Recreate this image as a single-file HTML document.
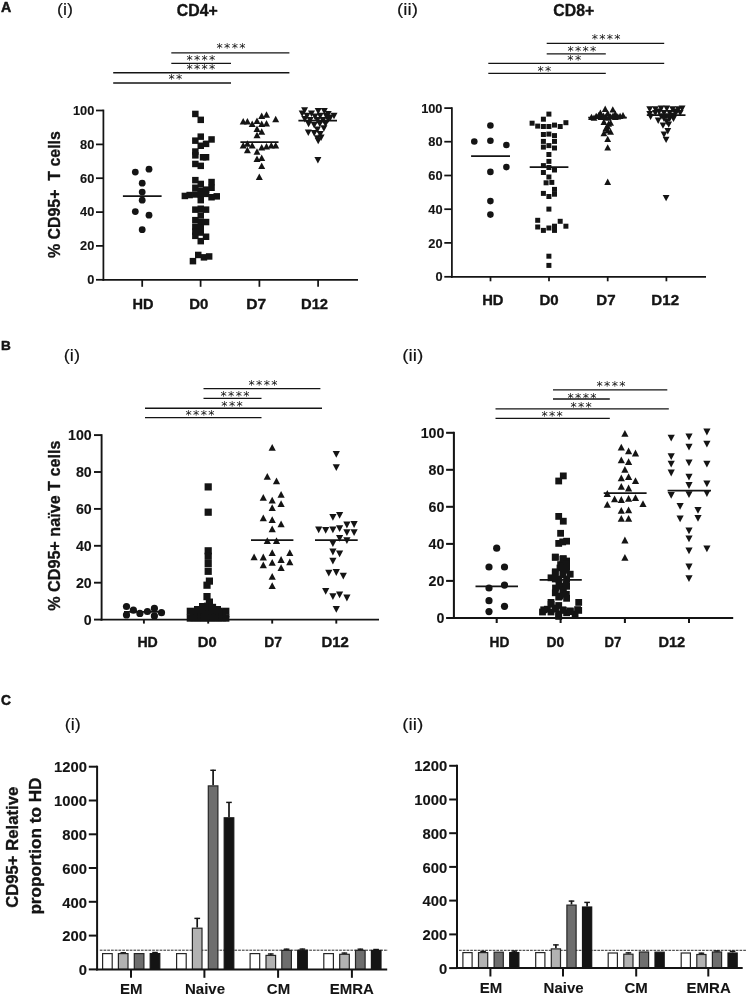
<!DOCTYPE html>
<html lang="en"><head><meta charset="utf-8"><title>Figure</title>
<style>
html,body{margin:0;padding:0;background:#fff;}
body{width:748px;height:996px;overflow:hidden;font-family:"Liberation Sans",sans-serif;}
svg{display:block;}
text{fill:#141414;white-space:pre;}
</style></head><body>
<svg width="748" height="996" viewBox="0 0 748 996">
<rect width="748" height="996" fill="#fff"/>
<g fill="#141414">
<circle cx="135.3" cy="172.1" r="3.4"/>
<circle cx="149.0" cy="169.2" r="3.4"/>
<circle cx="142.2" cy="183.2" r="3.4"/>
<circle cx="142.2" cy="192.1" r="3.4"/>
<circle cx="142.2" cy="200.2" r="3.4"/>
<circle cx="135.3" cy="211.6" r="3.4"/>
<circle cx="149.0" cy="215.2" r="3.4"/>
<circle cx="142.2" cy="229.7" r="3.4"/>
<path d="M122.9 196.0H161.6" stroke="#141414" stroke-width="1.75" fill="none"/>
<rect x="192.1" y="110.7" width="6.5" height="6.5"/>
<rect x="197.5" y="116.6" width="6.5" height="6.5"/>
<rect x="197.5" y="133.4" width="6.5" height="6.5"/>
<rect x="208.3" y="136.2" width="6.5" height="6.5"/>
<rect x="192.1" y="137.4" width="6.5" height="6.5"/>
<rect x="202.8" y="140.6" width="6.5" height="6.5"/>
<rect x="197.5" y="142.5" width="6.5" height="6.5"/>
<rect x="192.1" y="148.3" width="6.5" height="6.5"/>
<rect x="192.1" y="152.1" width="6.5" height="6.5"/>
<rect x="202.8" y="154.0" width="6.5" height="6.5"/>
<rect x="199.8" y="154.0" width="6.5" height="6.5"/>
<rect x="192.1" y="160.7" width="6.5" height="6.5"/>
<rect x="197.5" y="162.6" width="6.5" height="6.5"/>
<rect x="192.1" y="176.9" width="6.5" height="6.5"/>
<rect x="208.3" y="178.8" width="6.5" height="6.5"/>
<rect x="197.5" y="180.7" width="6.5" height="6.5"/>
<rect x="192.1" y="184.5" width="6.5" height="6.5"/>
<rect x="208.3" y="184.5" width="6.5" height="6.5"/>
<rect x="202.8" y="186.4" width="6.5" height="6.5"/>
<rect x="197.5" y="187.4" width="6.5" height="6.5"/>
<rect x="181.6" y="192.7" width="6.5" height="6.5"/>
<rect x="186.4" y="191.8" width="6.5" height="6.5"/>
<rect x="192.1" y="191.2" width="6.5" height="6.5"/>
<rect x="197.5" y="191.2" width="6.5" height="6.5"/>
<rect x="202.8" y="190.6" width="6.5" height="6.5"/>
<rect x="208.3" y="194.0" width="6.5" height="6.5"/>
<rect x="213.5" y="193.1" width="6.5" height="6.5"/>
<rect x="197.5" y="196.9" width="6.5" height="6.5"/>
<rect x="192.1" y="206.4" width="6.5" height="6.5"/>
<rect x="197.5" y="205.5" width="6.5" height="6.5"/>
<rect x="202.8" y="206.4" width="6.5" height="6.5"/>
<rect x="197.5" y="212.2" width="6.5" height="6.5"/>
<rect x="192.1" y="216.9" width="6.5" height="6.5"/>
<rect x="197.5" y="218.8" width="6.5" height="6.5"/>
<rect x="202.8" y="218.8" width="6.5" height="6.5"/>
<rect x="192.1" y="223.6" width="6.5" height="6.5"/>
<rect x="197.5" y="224.9" width="6.5" height="6.5"/>
<rect x="192.1" y="228.4" width="6.5" height="6.5"/>
<rect x="197.5" y="229.3" width="6.5" height="6.5"/>
<rect x="192.1" y="232.6" width="6.5" height="6.5"/>
<rect x="202.8" y="233.5" width="6.5" height="6.5"/>
<rect x="197.5" y="237.9" width="6.5" height="6.5"/>
<rect x="195.0" y="251.7" width="6.5" height="6.5"/>
<rect x="200.7" y="254.1" width="6.5" height="6.5"/>
<rect x="205.9" y="253.2" width="6.5" height="6.5"/>
<rect x="189.7" y="257.9" width="6.5" height="6.5"/>
<path d="M239.7 124.6L246.7 124.6L243.2 118.1Z"/>
<path d="M243.9 124.6L250.9 124.6L247.4 118.1Z"/>
<path d="M248.7 127.1L255.7 127.1L252.2 120.6Z"/>
<path d="M253.5 123.9L260.5 123.9L257.0 117.4Z"/>
<path d="M258.2 119.1L265.2 119.1L261.7 112.6Z"/>
<path d="M263.0 117.7L270.0 117.7L266.5 111.2Z"/>
<path d="M272.2 122.3L279.2 122.3L275.7 115.8Z"/>
<path d="M258.2 127.1L265.2 127.1L261.7 120.6Z"/>
<path d="M263.0 126.5L270.0 126.5L266.5 120.0Z"/>
<path d="M253.5 131.9L260.5 131.9L257.0 125.4Z"/>
<path d="M258.2 134.7L265.2 134.7L261.7 128.2Z"/>
<path d="M253.5 138.2L260.5 138.2L257.0 131.7Z"/>
<path d="M239.7 148.5L246.7 148.5L243.2 142.0Z"/>
<path d="M243.9 146.7L250.9 146.7L247.4 140.2Z"/>
<path d="M248.7 148.5L255.7 148.5L252.2 142.0Z"/>
<path d="M243.9 153.2L250.9 153.2L247.4 146.7Z"/>
<path d="M253.5 154.8L260.5 154.8L257.0 148.3Z"/>
<path d="M258.2 150.6L265.2 150.6L261.7 144.1Z"/>
<path d="M263.0 149.6L270.0 149.6L266.5 143.1Z"/>
<path d="M267.8 148.5L274.8 148.5L271.3 142.0Z"/>
<path d="M272.2 148.5L279.2 148.5L275.7 142.0Z"/>
<path d="M253.5 162.0L260.5 162.0L257.0 155.5Z"/>
<path d="M258.2 161.1L265.2 161.1L261.7 154.6Z"/>
<path d="M258.2 169.1L265.2 169.1L261.7 162.6Z"/>
<path d="M255.8 179.9L262.8 179.9L259.3 173.4Z"/>
<path d="M240.4 142.1H278.5" stroke="#141414" stroke-width="1.75" fill="none"/>
<path d="M301.1 107.2L308.1 107.2L304.6 113.7Z"/>
<path d="M314.7 108.0L321.7 108.0L318.2 114.5Z"/>
<path d="M320.8 108.0L327.8 108.0L324.3 114.5Z"/>
<path d="M298.7 110.4L305.7 110.4L302.2 116.9Z"/>
<path d="M308.0 110.4L315.0 110.4L311.5 116.9Z"/>
<path d="M324.7 110.9L331.7 110.9L328.2 117.4Z"/>
<path d="M330.5 112.8L337.5 112.8L334.0 119.3Z"/>
<path d="M303.5 112.8L310.5 112.8L307.0 119.3Z"/>
<path d="M311.5 113.6L318.5 113.6L315.0 120.1Z"/>
<path d="M316.7 112.8L323.7 112.8L320.2 119.3Z"/>
<path d="M322.8 113.1L329.8 113.1L326.3 119.6Z"/>
<path d="M326.9 114.4L333.9 114.4L330.4 120.9Z"/>
<path d="M301.3 116.0L308.3 116.0L304.8 122.5Z"/>
<path d="M306.7 117.0L313.7 117.0L310.2 123.5Z"/>
<path d="M313.9 117.0L320.9 117.0L317.4 123.5Z"/>
<path d="M319.6 117.0L326.6 117.0L323.1 123.5Z"/>
<path d="M324.7 116.3L331.7 116.3L328.2 122.8Z"/>
<path d="M305.1 120.8L312.1 120.8L308.6 127.3Z"/>
<path d="M310.7 122.1L317.7 122.1L314.2 128.6Z"/>
<path d="M316.3 120.8L323.3 120.8L319.8 127.3Z"/>
<path d="M322.0 120.8L329.0 120.8L325.5 127.3Z"/>
<path d="M313.9 126.4L320.9 126.4L317.4 132.9Z"/>
<path d="M320.4 125.3L327.4 125.3L323.9 131.8Z"/>
<path d="M304.8 129.6L311.8 129.6L308.3 136.1Z"/>
<path d="M310.7 130.1L317.7 130.1L314.2 136.6Z"/>
<path d="M316.7 131.1L323.7 131.1L320.2 137.6Z"/>
<path d="M313.9 135.3L320.9 135.3L317.4 141.8Z"/>
<path d="M317.6 134.5L324.6 134.5L321.1 141.0Z"/>
<path d="M314.7 137.8L321.7 137.8L318.2 144.3Z"/>
<path d="M314.4 156.9L321.4 156.9L317.9 163.4Z"/>
<path d="M298.4 120.5H337.0" stroke="#141414" stroke-width="1.75" fill="none"/>
<path d="M103.4 109.6V280.7" stroke="#141414" stroke-width="1.75" fill="none"/>
<path d="M102.5 279.8H358.0" stroke="#141414" stroke-width="1.75" fill="none"/>
<path d="M96.0 110.5H103.4" stroke="#141414" stroke-width="1.75" fill="none"/>
<text x="94.3" y="114.8" font-family="'Liberation Sans', sans-serif" font-size="12.8" font-weight="bold" text-anchor="end" stroke="#141414" stroke-width="0.12" stroke-linejoin="round">100</text>
<path d="M96.0 144.4H103.4" stroke="#141414" stroke-width="1.75" fill="none"/>
<text x="94.3" y="148.8" font-family="'Liberation Sans', sans-serif" font-size="12.8" font-weight="bold" text-anchor="end" stroke="#141414" stroke-width="0.12" stroke-linejoin="round">80</text>
<path d="M96.0 178.2H103.4" stroke="#141414" stroke-width="1.75" fill="none"/>
<text x="94.3" y="182.5" font-family="'Liberation Sans', sans-serif" font-size="12.8" font-weight="bold" text-anchor="end" stroke="#141414" stroke-width="0.12" stroke-linejoin="round">60</text>
<path d="M96.0 212.1H103.4" stroke="#141414" stroke-width="1.75" fill="none"/>
<text x="94.3" y="216.4" font-family="'Liberation Sans', sans-serif" font-size="12.8" font-weight="bold" text-anchor="end" stroke="#141414" stroke-width="0.12" stroke-linejoin="round">40</text>
<path d="M96.0 245.9H103.4" stroke="#141414" stroke-width="1.75" fill="none"/>
<text x="94.3" y="250.2" font-family="'Liberation Sans', sans-serif" font-size="12.8" font-weight="bold" text-anchor="end" stroke="#141414" stroke-width="0.12" stroke-linejoin="round">20</text>
<path d="M96.0 279.8H103.4" stroke="#141414" stroke-width="1.75" fill="none"/>
<text x="94.3" y="284.2" font-family="'Liberation Sans', sans-serif" font-size="12.8" font-weight="bold" text-anchor="end" stroke="#141414" stroke-width="0.12" stroke-linejoin="round">0</text>
<path d="M142.2 279.8V286.8" stroke="#141414" stroke-width="1.75" fill="none"/>
<path d="M200.6 279.8V286.8" stroke="#141414" stroke-width="1.75" fill="none"/>
<path d="M259.4 279.8V286.8" stroke="#141414" stroke-width="1.75" fill="none"/>
<path d="M318.1 279.8V286.8" stroke="#141414" stroke-width="1.75" fill="none"/>
<path d="M171.3 52.8H289.4" stroke="#141414" stroke-width="1.35" fill="none"/>
<text x="219.7 227.2 234.8 242.3" y="52.4" font-family="'DejaVu Sans', sans-serif" font-size="12.5" text-anchor="middle">****</text>
<path d="M171.3 63.3H231.0" stroke="#141414" stroke-width="1.35" fill="none"/>
<text x="189.5 197.0 204.6 212.1" y="64.2" font-family="'DejaVu Sans', sans-serif" font-size="12.5" text-anchor="middle">****</text>
<path d="M113.2 72.7H289.4" stroke="#141414" stroke-width="1.35" fill="none"/>
<text x="189.5 197.0 204.6 212.1" y="73.4" font-family="'DejaVu Sans', sans-serif" font-size="12.5" text-anchor="middle">****</text>
<path d="M113.2 83.0H231.0" stroke="#141414" stroke-width="1.35" fill="none"/>
<text x="171.6 179.2" y="83.3" font-family="'DejaVu Sans', sans-serif" font-size="12.5" text-anchor="middle">**</text>
<text x="142.9" y="309.4" font-family="'Liberation Sans', sans-serif" font-size="14.2" font-weight="bold" text-anchor="middle" textLength="21.0" lengthAdjust="spacingAndGlyphs" stroke="#141414" stroke-width="0.35" stroke-linejoin="round">HD</text>
<text x="198.7" y="309.4" font-family="'Liberation Sans', sans-serif" font-size="14.2" font-weight="bold" text-anchor="middle" textLength="19.1" lengthAdjust="spacingAndGlyphs" stroke="#141414" stroke-width="0.35" stroke-linejoin="round">D0</text>
<text x="256.1" y="309.4" font-family="'Liberation Sans', sans-serif" font-size="14.2" font-weight="bold" text-anchor="middle" textLength="19.9" lengthAdjust="spacingAndGlyphs" stroke="#141414" stroke-width="0.35" stroke-linejoin="round">D7</text>
<text x="314.5" y="309.4" font-family="'Liberation Sans', sans-serif" font-size="14.2" font-weight="bold" text-anchor="middle" textLength="27.0" lengthAdjust="spacingAndGlyphs" stroke="#141414" stroke-width="0.35" stroke-linejoin="round">D12</text>
<text x="197.3" y="15.6" font-family="'Liberation Sans', sans-serif" font-size="15.6" font-weight="bold" text-anchor="middle" textLength="41.0" lengthAdjust="spacingAndGlyphs" stroke="#141414" stroke-width="0.35" stroke-linejoin="round">CD4+</text>
<text x="59.6" y="194.6" font-family="'Liberation Sans', sans-serif" font-size="17" font-weight="bold" text-anchor="middle" textLength="126.8" lengthAdjust="spacingAndGlyphs" transform="rotate(-90 59.6 194.6)" stroke="#141414" stroke-width="0.35" stroke-linejoin="round">% CD95+  T cells</text>
<circle cx="490.4" cy="125.5" r="3.3"/>
<circle cx="474.3" cy="141.5" r="3.3"/>
<circle cx="490.4" cy="140.8" r="3.3"/>
<circle cx="506.4" cy="145.0" r="3.3"/>
<circle cx="506.4" cy="167.1" r="3.3"/>
<circle cx="490.4" cy="171.9" r="3.3"/>
<circle cx="490.4" cy="201.1" r="3.3"/>
<circle cx="490.4" cy="214.6" r="3.3"/>
<path d="M471.1 156.0H510.0" stroke="#141414" stroke-width="1.75" fill="none"/>
<rect x="546.4" y="111.6" width="5" height="5"/>
<rect x="540.9" y="116.7" width="5" height="5"/>
<rect x="529.6" y="120.7" width="5" height="5"/>
<rect x="563.4" y="120.2" width="5" height="5"/>
<rect x="535.2" y="123.6" width="5" height="5"/>
<rect x="540.9" y="124.0" width="5" height="5"/>
<rect x="546.4" y="124.0" width="5" height="5"/>
<rect x="552.0" y="122.6" width="5" height="5"/>
<rect x="557.7" y="124.0" width="5" height="5"/>
<rect x="540.9" y="132.0" width="5" height="5"/>
<rect x="546.4" y="131.6" width="5" height="5"/>
<rect x="552.0" y="133.1" width="5" height="5"/>
<rect x="540.9" y="138.9" width="5" height="5"/>
<rect x="552.0" y="138.9" width="5" height="5"/>
<rect x="540.9" y="144.6" width="5" height="5"/>
<rect x="546.4" y="143.1" width="5" height="5"/>
<rect x="552.0" y="145.5" width="5" height="5"/>
<rect x="546.4" y="152.0" width="5" height="5"/>
<rect x="546.4" y="158.9" width="5" height="5"/>
<rect x="540.9" y="163.1" width="5" height="5"/>
<rect x="546.4" y="165.0" width="5" height="5"/>
<rect x="552.0" y="167.5" width="5" height="5"/>
<rect x="540.9" y="170.0" width="5" height="5"/>
<rect x="546.4" y="174.5" width="5" height="5"/>
<rect x="543.6" y="180.3" width="5" height="5"/>
<rect x="549.3" y="179.9" width="5" height="5"/>
<rect x="552.0" y="186.9" width="5" height="5"/>
<rect x="540.9" y="190.9" width="5" height="5"/>
<rect x="546.4" y="194.0" width="5" height="5"/>
<rect x="552.0" y="191.7" width="5" height="5"/>
<rect x="546.4" y="206.6" width="5" height="5"/>
<rect x="535.2" y="217.8" width="5" height="5"/>
<rect x="557.7" y="218.8" width="5" height="5"/>
<rect x="535.2" y="224.5" width="5" height="5"/>
<rect x="546.4" y="225.5" width="5" height="5"/>
<rect x="552.0" y="223.7" width="5" height="5"/>
<rect x="563.4" y="223.7" width="5" height="5"/>
<rect x="540.9" y="227.9" width="5" height="5"/>
<rect x="552.0" y="227.9" width="5" height="5"/>
<rect x="546.4" y="253.7" width="5" height="5"/>
<rect x="546.4" y="262.9" width="5" height="5"/>
<path d="M529.7 167.1H568.4" stroke="#141414" stroke-width="1.75" fill="none"/>
<path d="M601.8 111.9L608.6 111.9L605.2 105.6Z"/>
<path d="M609.4 112.5L616.2 112.5L612.8 106.2Z"/>
<path d="M597.0 115.7L603.8 115.7L600.4 109.4Z"/>
<path d="M604.3 116.3L611.1 116.3L607.7 110.0Z"/>
<path d="M611.9 116.8L618.7 116.8L615.3 110.5Z"/>
<path d="M619.6 118.2L626.4 118.2L623.0 111.9Z"/>
<path d="M588.1 120.1L594.9 120.1L591.5 113.8Z"/>
<path d="M592.8 119.1L599.6 119.1L596.2 112.8Z"/>
<path d="M597.6 120.1L604.4 120.1L601.0 113.8Z"/>
<path d="M602.4 120.1L609.2 120.1L605.8 113.8Z"/>
<path d="M607.2 119.5L614.0 119.5L610.6 113.2Z"/>
<path d="M611.9 120.1L618.7 120.1L615.3 113.8Z"/>
<path d="M616.7 119.1L623.5 119.1L620.1 112.8Z"/>
<path d="M600.5 124.9L607.3 124.9L603.9 118.6Z"/>
<path d="M607.2 125.8L614.0 125.8L610.6 119.5Z"/>
<path d="M604.3 129.6L611.1 129.6L607.7 123.3Z"/>
<path d="M604.3 133.4L611.1 133.4L607.7 127.1Z"/>
<path d="M600.5 136.3L607.3 136.3L603.9 130.0Z"/>
<path d="M607.2 134.8L614.0 134.8L610.6 128.5Z"/>
<path d="M604.3 142.0L611.1 142.0L607.7 135.7Z"/>
<path d="M604.3 150.6L611.1 150.6L607.7 144.3Z"/>
<path d="M604.3 184.9L611.1 184.9L607.7 178.6Z"/>
<path d="M590.6 120.7L597.4 120.7L594.0 114.4Z"/>
<path d="M595.3 118.2L602.1 118.2L598.7 111.9Z"/>
<path d="M600.1 118.8L606.9 118.8L603.5 112.5Z"/>
<path d="M604.9 120.7L611.7 120.7L608.3 114.4Z"/>
<path d="M609.6 118.8L616.4 118.8L613.0 112.5Z"/>
<path d="M614.4 119.5L621.2 119.5L617.8 113.2Z"/>
<path d="M605.2 126.8L612.0 126.8L608.6 120.5Z"/>
<path d="M602.4 131.5L609.2 131.5L605.8 125.2Z"/>
<path d="M588.2 117.5H626.8" stroke="#141414" stroke-width="1.75" fill="none"/>
<path d="M646.3 106.2L653.1 106.2L649.7 112.5Z"/>
<path d="M652.0 106.2L658.8 106.2L655.4 112.5Z"/>
<path d="M657.7 105.6L664.5 105.6L661.1 111.9Z"/>
<path d="M663.4 105.6L670.2 105.6L666.8 111.9Z"/>
<path d="M669.2 106.2L676.0 106.2L672.6 112.5Z"/>
<path d="M674.9 106.2L681.7 106.2L678.3 112.5Z"/>
<path d="M678.7 105.6L685.5 105.6L682.1 111.9Z"/>
<path d="M646.3 110.9L653.1 110.9L649.7 117.2Z"/>
<path d="M652.0 110.0L658.8 110.0L655.4 116.3Z"/>
<path d="M660.6 110.0L667.4 110.0L664.0 116.3Z"/>
<path d="M666.3 110.0L673.1 110.0L669.7 116.3Z"/>
<path d="M672.0 110.0L678.8 110.0L675.4 116.3Z"/>
<path d="M676.8 110.0L683.6 110.0L680.2 116.3Z"/>
<path d="M647.2 113.8L654.0 113.8L650.6 120.1Z"/>
<path d="M654.8 117.6L661.6 117.6L658.2 123.9Z"/>
<path d="M660.6 115.7L667.4 115.7L664.0 122.0Z"/>
<path d="M666.3 115.7L673.1 115.7L669.7 122.0Z"/>
<path d="M670.1 115.7L676.9 115.7L673.5 122.0Z"/>
<path d="M659.6 122.4L666.4 122.4L663.0 128.7Z"/>
<path d="M665.3 121.4L672.1 121.4L668.7 127.7Z"/>
<path d="M664.4 128.1L671.2 128.1L667.8 134.4Z"/>
<path d="M660.6 131.5L667.4 131.5L664.0 137.8Z"/>
<path d="M662.7 136.7L669.5 136.7L666.1 143.0Z"/>
<path d="M662.7 194.9L669.5 194.9L666.1 201.2Z"/>
<path d="M657.7 113.2L664.5 113.2L661.1 119.5Z"/>
<path d="M663.4 113.2L670.2 113.2L666.8 119.5Z"/>
<path d="M669.2 112.8L676.0 112.8L672.6 119.1Z"/>
<path d="M663.4 118.6L670.2 118.6L666.8 124.9Z"/>
<path d="M655.8 108.6L662.6 108.6L659.2 114.9Z"/>
<path d="M673.3 108.6L680.1 108.6L676.7 114.9Z"/>
<path d="M646.8 115.0H685.5" stroke="#141414" stroke-width="1.75" fill="none"/>
<path d="M451.9 107.2V277.7" stroke="#141414" stroke-width="1.75" fill="none"/>
<path d="M451.0 276.8H706.0" stroke="#141414" stroke-width="1.75" fill="none"/>
<path d="M444.3 108.1H451.9" stroke="#141414" stroke-width="1.75" fill="none"/>
<text x="442.5" y="112.6" font-family="'Liberation Sans', sans-serif" font-size="12.8" font-weight="bold" text-anchor="end" stroke="#141414" stroke-width="0.12" stroke-linejoin="round">100</text>
<path d="M444.3 141.7H451.9" stroke="#141414" stroke-width="1.75" fill="none"/>
<text x="442.5" y="146.2" font-family="'Liberation Sans', sans-serif" font-size="12.8" font-weight="bold" text-anchor="end" stroke="#141414" stroke-width="0.12" stroke-linejoin="round">80</text>
<path d="M444.3 175.5H451.9" stroke="#141414" stroke-width="1.75" fill="none"/>
<text x="442.5" y="180.1" font-family="'Liberation Sans', sans-serif" font-size="12.8" font-weight="bold" text-anchor="end" stroke="#141414" stroke-width="0.12" stroke-linejoin="round">60</text>
<path d="M444.3 209.2H451.9" stroke="#141414" stroke-width="1.75" fill="none"/>
<text x="442.5" y="213.8" font-family="'Liberation Sans', sans-serif" font-size="12.8" font-weight="bold" text-anchor="end" stroke="#141414" stroke-width="0.12" stroke-linejoin="round">40</text>
<path d="M444.3 242.9H451.9" stroke="#141414" stroke-width="1.75" fill="none"/>
<text x="442.5" y="247.5" font-family="'Liberation Sans', sans-serif" font-size="12.8" font-weight="bold" text-anchor="end" stroke="#141414" stroke-width="0.12" stroke-linejoin="round">20</text>
<path d="M444.3 276.8H451.9" stroke="#141414" stroke-width="1.75" fill="none"/>
<text x="442.5" y="281.4" font-family="'Liberation Sans', sans-serif" font-size="12.8" font-weight="bold" text-anchor="end" stroke="#141414" stroke-width="0.12" stroke-linejoin="round">0</text>
<path d="M490.5 276.8V281.3" stroke="#141414" stroke-width="1.75" fill="none"/>
<path d="M549.0 276.8V281.3" stroke="#141414" stroke-width="1.75" fill="none"/>
<path d="M607.7 276.8V281.3" stroke="#141414" stroke-width="1.75" fill="none"/>
<path d="M666.4 276.8V281.3" stroke="#141414" stroke-width="1.75" fill="none"/>
<path d="M546.7 43.4H664.2" stroke="#141414" stroke-width="1.35" fill="none"/>
<text x="594.8 602.3 609.9 617.4" y="43.2" font-family="'DejaVu Sans', sans-serif" font-size="12.5" text-anchor="middle">****</text>
<path d="M546.7 53.9H605.8" stroke="#141414" stroke-width="1.35" fill="none"/>
<text x="570.5 578.0 585.6 593.1" y="54.6" font-family="'DejaVu Sans', sans-serif" font-size="12.5" text-anchor="middle">****</text>
<path d="M488.3 63.3H664.2" stroke="#141414" stroke-width="1.35" fill="none"/>
<text x="570.4 578.0" y="64.0" font-family="'DejaVu Sans', sans-serif" font-size="12.5" text-anchor="middle">**</text>
<path d="M488.3 73.3H605.8" stroke="#141414" stroke-width="1.35" fill="none"/>
<text x="540.5 548.1" y="74.7" font-family="'DejaVu Sans', sans-serif" font-size="12.5" text-anchor="middle">**</text>
<text x="492.8" y="305.1" font-family="'Liberation Sans', sans-serif" font-size="14.2" font-weight="bold" text-anchor="middle" textLength="21.3" lengthAdjust="spacingAndGlyphs" stroke="#141414" stroke-width="0.35" stroke-linejoin="round">HD</text>
<text x="549.1" y="305.1" font-family="'Liberation Sans', sans-serif" font-size="14.2" font-weight="bold" text-anchor="middle" textLength="19.2" lengthAdjust="spacingAndGlyphs" stroke="#141414" stroke-width="0.35" stroke-linejoin="round">D0</text>
<text x="606.0" y="305.1" font-family="'Liberation Sans', sans-serif" font-size="14.2" font-weight="bold" text-anchor="middle" textLength="19.3" lengthAdjust="spacingAndGlyphs" stroke="#141414" stroke-width="0.35" stroke-linejoin="round">D7</text>
<text x="665.2" y="305.1" font-family="'Liberation Sans', sans-serif" font-size="14.2" font-weight="bold" text-anchor="middle" textLength="27.7" lengthAdjust="spacingAndGlyphs" stroke="#141414" stroke-width="0.35" stroke-linejoin="round">D12</text>
<text x="573.8" y="16.0" font-family="'Liberation Sans', sans-serif" font-size="15.6" font-weight="bold" text-anchor="middle" textLength="41.0" lengthAdjust="spacingAndGlyphs" stroke="#141414" stroke-width="0.35" stroke-linejoin="round">CD8+</text>
<circle cx="126.5" cy="606.5" r="3.6"/>
<circle cx="126.5" cy="614.9" r="3.6"/>
<circle cx="133.4" cy="610.2" r="3.6"/>
<circle cx="139.9" cy="613.4" r="3.6"/>
<circle cx="147.4" cy="611.5" r="3.6"/>
<circle cx="154.4" cy="608.4" r="3.6"/>
<circle cx="154.4" cy="615.9" r="3.6"/>
<circle cx="161.5" cy="612.7" r="3.6"/>
<path d="M124.0 611.8H164.0" stroke="#141414" stroke-width="1.75" fill="none"/>
<rect x="204.6" y="483.3" width="7.2" height="7.2"/>
<rect x="204.6" y="508.6" width="7.2" height="7.2"/>
<rect x="204.6" y="547.2" width="7.2" height="7.2"/>
<rect x="204.6" y="552.7" width="7.2" height="7.2"/>
<rect x="204.6" y="560.0" width="7.2" height="7.2"/>
<rect x="204.6" y="567.7" width="7.2" height="7.2"/>
<rect x="205.8" y="577.5" width="7.2" height="7.2"/>
<rect x="203.4" y="581.6" width="7.2" height="7.2"/>
<rect x="203.4" y="593.0" width="7.2" height="7.2"/>
<rect x="205.8" y="598.5" width="7.2" height="7.2"/>
<rect x="203.9" y="602.6" width="7.2" height="7.2"/>
<rect x="207.0" y="604.5" width="7.2" height="7.2"/>
<rect x="186.7" y="607.7" width="7.2" height="7.2"/>
<rect x="190.3" y="608.4" width="7.2" height="7.2"/>
<rect x="193.8" y="607.7" width="7.2" height="7.2"/>
<rect x="197.4" y="608.4" width="7.2" height="7.2"/>
<rect x="200.9" y="607.7" width="7.2" height="7.2"/>
<rect x="204.5" y="608.4" width="7.2" height="7.2"/>
<rect x="208.0" y="607.7" width="7.2" height="7.2"/>
<rect x="211.6" y="608.4" width="7.2" height="7.2"/>
<rect x="215.1" y="607.7" width="7.2" height="7.2"/>
<rect x="218.7" y="608.4" width="7.2" height="7.2"/>
<rect x="222.2" y="607.7" width="7.2" height="7.2"/>
<rect x="186.7" y="614.5" width="7.2" height="7.2"/>
<rect x="190.3" y="614.1" width="7.2" height="7.2"/>
<rect x="193.8" y="614.5" width="7.2" height="7.2"/>
<rect x="197.4" y="614.1" width="7.2" height="7.2"/>
<rect x="200.9" y="614.5" width="7.2" height="7.2"/>
<rect x="204.5" y="614.1" width="7.2" height="7.2"/>
<rect x="208.0" y="614.5" width="7.2" height="7.2"/>
<rect x="211.6" y="614.1" width="7.2" height="7.2"/>
<rect x="215.1" y="614.5" width="7.2" height="7.2"/>
<rect x="218.7" y="614.1" width="7.2" height="7.2"/>
<rect x="222.2" y="614.5" width="7.2" height="7.2"/>
<rect x="199.0" y="603.0" width="7.2" height="7.2"/>
<rect x="202.3" y="603.8" width="7.2" height="7.2"/>
<rect x="205.6" y="603.0" width="7.2" height="7.2"/>
<rect x="208.9" y="603.8" width="7.2" height="7.2"/>
<rect x="194.0" y="606.0" width="7.2" height="7.2"/>
<rect x="213.8" y="606.0" width="7.2" height="7.2"/>
<path d="M187.0 616.5H229.4" stroke="#141414" stroke-width="1.75" fill="none"/>
<path d="M268.6 450.8L275.8 450.8L272.2 444.0Z"/>
<path d="M263.7 479.7L270.9 479.7L267.3 472.9Z"/>
<path d="M272.9 484.3L280.1 484.3L276.5 477.5Z"/>
<path d="M277.5 497.8L284.7 497.8L281.1 491.0Z"/>
<path d="M259.7 500.7L266.9 500.7L263.3 493.9Z"/>
<path d="M268.6 503.6L275.8 503.6L272.2 496.8Z"/>
<path d="M277.5 507.0L284.7 507.0L281.1 500.2Z"/>
<path d="M268.6 511.1L275.8 511.1L272.2 504.3Z"/>
<path d="M259.7 521.2L266.9 521.2L263.3 514.4Z"/>
<path d="M268.6 523.1L275.8 523.1L272.2 516.3Z"/>
<path d="M277.5 527.2L284.7 527.2L281.1 520.4Z"/>
<path d="M268.6 532.3L275.8 532.3L272.2 525.5Z"/>
<path d="M263.7 544.1L270.9 544.1L267.3 537.3Z"/>
<path d="M272.9 544.1L280.1 544.1L276.5 537.3Z"/>
<path d="M268.6 556.1L275.8 556.1L272.2 549.3Z"/>
<path d="M286.2 556.1L293.4 556.1L289.8 549.3Z"/>
<path d="M250.5 560.2L257.7 560.2L254.1 553.4Z"/>
<path d="M259.7 560.4L266.9 560.4L263.3 553.6Z"/>
<path d="M277.5 562.9L284.7 562.9L281.1 556.1Z"/>
<path d="M268.6 565.7L275.8 565.7L272.2 558.9Z"/>
<path d="M286.2 565.3L293.4 565.3L289.8 558.5Z"/>
<path d="M259.7 568.2L266.9 568.2L263.3 561.4Z"/>
<path d="M277.5 571.1L284.7 571.1L281.1 564.3Z"/>
<path d="M268.6 579.7L275.8 579.7L272.2 572.9Z"/>
<path d="M268.6 589.1L275.8 589.1L272.2 582.3Z"/>
<path d="M251.0 540.2H293.4" stroke="#141414" stroke-width="1.75" fill="none"/>
<path d="M332.7 451.0L339.9 451.0L336.3 457.8Z"/>
<path d="M332.7 464.3L339.9 464.3L336.3 471.1Z"/>
<path d="M336.0 512.0L343.2 512.0L339.6 518.8Z"/>
<path d="M329.3 513.9L336.5 513.9L332.9 520.7Z"/>
<path d="M343.3 521.6L350.5 521.6L346.9 528.4Z"/>
<path d="M350.5 521.1L357.7 521.1L354.1 527.9Z"/>
<path d="M315.1 526.4L322.3 526.4L318.7 533.2Z"/>
<path d="M322.1 526.9L329.3 526.9L325.7 533.7Z"/>
<path d="M329.3 526.4L336.5 526.4L332.9 533.2Z"/>
<path d="M336.0 525.2L343.2 525.2L339.6 532.0Z"/>
<path d="M343.3 529.3L350.5 529.3L346.9 536.1Z"/>
<path d="M350.5 529.3L357.7 529.3L354.1 536.1Z"/>
<path d="M336.0 534.9L343.2 534.9L339.6 541.7Z"/>
<path d="M343.3 537.3L350.5 537.3L346.9 544.1Z"/>
<path d="M329.3 540.2L336.5 540.2L332.9 547.0Z"/>
<path d="M329.3 548.6L336.5 548.6L332.9 555.4Z"/>
<path d="M336.0 550.5L343.2 550.5L339.6 557.3Z"/>
<path d="M329.3 557.7L336.5 557.7L332.9 564.5Z"/>
<path d="M325.2 569.8L332.4 569.8L328.8 576.6Z"/>
<path d="M332.7 569.1L339.9 569.1L336.3 575.9Z"/>
<path d="M339.7 572.7L346.9 572.7L343.3 579.5Z"/>
<path d="M322.1 587.9L329.3 587.9L325.7 594.7Z"/>
<path d="M329.3 593.2L336.5 593.2L332.9 600.0Z"/>
<path d="M336.0 591.5L343.2 591.5L339.6 598.3Z"/>
<path d="M343.3 594.6L350.5 594.6L346.9 601.4Z"/>
<path d="M332.7 605.9L339.9 605.9L336.3 612.7Z"/>
<path d="M315.0 540.2H357.7" stroke="#141414" stroke-width="1.75" fill="none"/>
<path d="M101.6 434.2V620.6" stroke="#141414" stroke-width="1.9" fill="none"/>
<path d="M100.6 619.6H379.0" stroke="#141414" stroke-width="1.9" fill="none"/>
<path d="M94.0 435.1H101.6" stroke="#141414" stroke-width="1.9" fill="none"/>
<text x="91.7" y="440.0" font-family="'Liberation Sans', sans-serif" font-size="14.2" font-weight="bold" text-anchor="end" stroke="#141414" stroke-width="0.12" stroke-linejoin="round">100</text>
<path d="M94.0 472.0H101.6" stroke="#141414" stroke-width="1.9" fill="none"/>
<text x="91.7" y="476.9" font-family="'Liberation Sans', sans-serif" font-size="14.2" font-weight="bold" text-anchor="end" stroke="#141414" stroke-width="0.12" stroke-linejoin="round">80</text>
<path d="M94.0 508.9H101.6" stroke="#141414" stroke-width="1.9" fill="none"/>
<text x="91.7" y="513.8" font-family="'Liberation Sans', sans-serif" font-size="14.2" font-weight="bold" text-anchor="end" stroke="#141414" stroke-width="0.12" stroke-linejoin="round">60</text>
<path d="M94.0 545.8H101.6" stroke="#141414" stroke-width="1.9" fill="none"/>
<text x="91.7" y="550.6" font-family="'Liberation Sans', sans-serif" font-size="14.2" font-weight="bold" text-anchor="end" stroke="#141414" stroke-width="0.12" stroke-linejoin="round">40</text>
<path d="M94.0 582.7H101.6" stroke="#141414" stroke-width="1.9" fill="none"/>
<text x="91.7" y="587.6" font-family="'Liberation Sans', sans-serif" font-size="14.2" font-weight="bold" text-anchor="end" stroke="#141414" stroke-width="0.12" stroke-linejoin="round">20</text>
<path d="M94.0 619.6H101.6" stroke="#141414" stroke-width="1.9" fill="none"/>
<text x="91.7" y="624.5" font-family="'Liberation Sans', sans-serif" font-size="14.2" font-weight="bold" text-anchor="end" stroke="#141414" stroke-width="0.12" stroke-linejoin="round">0</text>
<path d="M143.9 619.6V623.6" stroke="#141414" stroke-width="1.9" fill="none"/>
<path d="M208.2 619.6V623.6" stroke="#141414" stroke-width="1.9" fill="none"/>
<path d="M272.2 619.6V623.6" stroke="#141414" stroke-width="1.9" fill="none"/>
<path d="M336.3 619.6V623.6" stroke="#141414" stroke-width="1.9" fill="none"/>
<path d="M203.5 388.6H320.4" stroke="#141414" stroke-width="1.35" fill="none"/>
<text x="251.7 259.2 266.8 274.3" y="388.5" font-family="'DejaVu Sans', sans-serif" font-size="12.5" text-anchor="middle">****</text>
<path d="M203.5 398.4H261.5" stroke="#141414" stroke-width="1.35" fill="none"/>
<text x="223.7 231.2 238.8 246.3" y="399.6" font-family="'DejaVu Sans', sans-serif" font-size="12.5" text-anchor="middle">****</text>
<path d="M145.0 408.2H322.0" stroke="#141414" stroke-width="1.35" fill="none"/>
<text x="224.4 232.0 239.6" y="409.7" font-family="'DejaVu Sans', sans-serif" font-size="12.5" text-anchor="middle">***</text>
<path d="M145.0 417.6H261.5" stroke="#141414" stroke-width="1.35" fill="none"/>
<text x="188.7 196.2 203.8 211.3" y="418.9" font-family="'DejaVu Sans', sans-serif" font-size="12.5" text-anchor="middle">****</text>
<text x="147.6" y="646.7" font-family="'Liberation Sans', sans-serif" font-size="14.2" font-weight="bold" text-anchor="middle" textLength="20.4" lengthAdjust="spacingAndGlyphs" stroke="#141414" stroke-width="0.35" stroke-linejoin="round">HD</text>
<text x="207.3" y="646.7" font-family="'Liberation Sans', sans-serif" font-size="14.2" font-weight="bold" text-anchor="middle" textLength="18.9" lengthAdjust="spacingAndGlyphs" stroke="#141414" stroke-width="0.35" stroke-linejoin="round">D0</text>
<text x="273.1" y="646.7" font-family="'Liberation Sans', sans-serif" font-size="14.2" font-weight="bold" text-anchor="middle" textLength="17.7" lengthAdjust="spacingAndGlyphs" stroke="#141414" stroke-width="0.35" stroke-linejoin="round">D7</text>
<text x="335.1" y="646.7" font-family="'Liberation Sans', sans-serif" font-size="14.2" font-weight="bold" text-anchor="middle" textLength="27.4" lengthAdjust="spacingAndGlyphs" stroke="#141414" stroke-width="0.35" stroke-linejoin="round">D12</text>
<text x="60.2" y="525.7" font-family="'Liberation Sans', sans-serif" font-size="17" font-weight="bold" text-anchor="middle" textLength="170.2" lengthAdjust="spacingAndGlyphs" transform="rotate(-90 60.2 525.7)" stroke="#141414" stroke-width="0.35" stroke-linejoin="round">% CD95+ naïve T cells</text>
<circle cx="496.7" cy="548.2" r="3.6"/>
<circle cx="489.0" cy="567.0" r="3.6"/>
<circle cx="504.5" cy="567.0" r="3.6"/>
<circle cx="489.0" cy="588.0" r="3.6"/>
<circle cx="504.5" cy="585.1" r="3.6"/>
<circle cx="489.0" cy="600.7" r="3.6"/>
<circle cx="504.5" cy="606.3" r="3.6"/>
<circle cx="489.0" cy="611.6" r="3.6"/>
<path d="M475.5 586.3H518.0" stroke="#141414" stroke-width="1.75" fill="none"/>
<rect x="559.9" y="472.5" width="6.8" height="6.8"/>
<rect x="555.3" y="477.6" width="6.8" height="6.8"/>
<rect x="555.3" y="513.0" width="6.8" height="6.8"/>
<rect x="559.9" y="517.8" width="6.8" height="6.8"/>
<rect x="557.2" y="529.9" width="6.8" height="6.8"/>
<rect x="555.3" y="540.0" width="6.8" height="6.8"/>
<rect x="563.2" y="537.8" width="6.8" height="6.8"/>
<rect x="551.9" y="553.9" width="6.8" height="6.8"/>
<rect x="559.9" y="555.2" width="6.8" height="6.8"/>
<rect x="563.2" y="557.6" width="6.8" height="6.8"/>
<rect x="557.2" y="561.2" width="6.8" height="6.8"/>
<rect x="563.2" y="563.6" width="6.8" height="6.8"/>
<rect x="551.9" y="568.4" width="6.8" height="6.8"/>
<rect x="559.9" y="567.2" width="6.8" height="6.8"/>
<rect x="566.8" y="570.8" width="6.8" height="6.8"/>
<rect x="547.6" y="574.4" width="6.8" height="6.8"/>
<rect x="555.3" y="575.6" width="6.8" height="6.8"/>
<rect x="563.2" y="575.6" width="6.8" height="6.8"/>
<rect x="557.2" y="582.9" width="6.8" height="6.8"/>
<rect x="563.2" y="582.9" width="6.8" height="6.8"/>
<rect x="551.9" y="589.4" width="6.8" height="6.8"/>
<rect x="559.9" y="588.9" width="6.8" height="6.8"/>
<rect x="555.3" y="593.7" width="6.8" height="6.8"/>
<rect x="563.2" y="594.9" width="6.8" height="6.8"/>
<rect x="547.6" y="599.0" width="6.8" height="6.8"/>
<rect x="575.3" y="599.0" width="6.8" height="6.8"/>
<rect x="555.3" y="602.1" width="6.8" height="6.8"/>
<rect x="543.9" y="605.8" width="6.8" height="6.8"/>
<rect x="551.9" y="605.8" width="6.8" height="6.8"/>
<rect x="559.9" y="607.0" width="6.8" height="6.8"/>
<rect x="566.8" y="608.2" width="6.8" height="6.8"/>
<rect x="575.3" y="607.0" width="6.8" height="6.8"/>
<rect x="539.1" y="608.6" width="6.8" height="6.8"/>
<rect x="547.6" y="608.6" width="6.8" height="6.8"/>
<rect x="555.3" y="610.6" width="6.8" height="6.8"/>
<rect x="563.2" y="609.4" width="6.8" height="6.8"/>
<rect x="571.7" y="610.6" width="6.8" height="6.8"/>
<rect x="555.3" y="613.0" width="6.8" height="6.8"/>
<rect x="559.3" y="538.5" width="6.8" height="6.8"/>
<rect x="551.9" y="553.7" width="6.8" height="6.8"/>
<rect x="559.5" y="555.8" width="6.8" height="6.8"/>
<rect x="563.0" y="560.9" width="6.8" height="6.8"/>
<rect x="556.6" y="564.6" width="6.8" height="6.8"/>
<rect x="551.9" y="569.8" width="6.8" height="6.8"/>
<rect x="559.5" y="571.4" width="6.8" height="6.8"/>
<rect x="555.6" y="579.9" width="6.8" height="6.8"/>
<rect x="563.0" y="581.1" width="6.8" height="6.8"/>
<rect x="552.1" y="584.6" width="6.8" height="6.8"/>
<rect x="559.5" y="587.0" width="6.8" height="6.8"/>
<rect x="556.3" y="592.7" width="6.8" height="6.8"/>
<rect x="563.0" y="590.9" width="6.8" height="6.8"/>
<rect x="547.7" y="600.9" width="6.8" height="6.8"/>
<rect x="552.1" y="604.6" width="6.8" height="6.8"/>
<rect x="559.5" y="606.4" width="6.8" height="6.8"/>
<rect x="566.9" y="607.5" width="6.8" height="6.8"/>
<rect x="574.2" y="606.2" width="6.8" height="6.8"/>
<rect x="540.3" y="606.4" width="6.8" height="6.8"/>
<rect x="563.0" y="566.1" width="6.8" height="6.8"/>
<rect x="551.9" y="575.6" width="6.8" height="6.8"/>
<path d="M539.6 579.8H581.8" stroke="#141414" stroke-width="1.75" fill="none"/>
<path d="M621.3 436.7L628.5 436.7L624.9 429.9Z"/>
<path d="M617.7 450.6L624.9 450.6L621.3 443.8Z"/>
<path d="M625.0 454.2L632.2 454.2L628.6 447.4Z"/>
<path d="M631.9 456.4L639.1 456.4L635.5 449.6Z"/>
<path d="M617.7 463.2L624.9 463.2L621.3 456.4Z"/>
<path d="M625.0 465.1L632.2 465.1L628.6 458.3Z"/>
<path d="M621.3 472.8L628.5 472.8L624.9 466.0Z"/>
<path d="M617.7 481.2L624.9 481.2L621.3 474.4Z"/>
<path d="M625.0 480.0L632.2 480.0L628.6 473.2Z"/>
<path d="M631.9 484.1L639.1 484.1L635.5 477.3Z"/>
<path d="M617.7 489.7L624.9 489.7L621.3 482.9Z"/>
<path d="M625.0 491.4L632.2 491.4L628.6 484.6Z"/>
<path d="M603.7 496.9L610.9 496.9L607.3 490.1Z"/>
<path d="M611.0 502.2L618.2 502.2L614.6 495.4Z"/>
<path d="M617.7 502.9L624.9 502.9L621.3 496.1Z"/>
<path d="M625.0 501.7L632.2 501.7L628.6 494.9Z"/>
<path d="M631.9 501.0L639.1 501.0L635.5 494.2Z"/>
<path d="M603.7 507.7L610.9 507.7L607.3 500.9Z"/>
<path d="M639.4 507.0L646.6 507.0L643.0 500.2Z"/>
<path d="M617.7 513.8L624.9 513.8L621.3 507.0Z"/>
<path d="M625.0 513.3L632.2 513.3L628.6 506.5Z"/>
<path d="M617.7 521.7L624.9 521.7L621.3 514.9Z"/>
<path d="M625.0 521.7L632.2 521.7L628.6 514.9Z"/>
<path d="M621.3 543.4L628.5 543.4L624.9 536.6Z"/>
<path d="M621.3 560.7L628.5 560.7L624.9 553.9Z"/>
<path d="M603.7 493.0H646.6" stroke="#141414" stroke-width="1.75" fill="none"/>
<path d="M703.3 428.6L710.5 428.6L706.9 435.4Z"/>
<path d="M667.6 434.7L674.8 434.7L671.2 441.5Z"/>
<path d="M685.4 433.5L692.6 433.5L689.0 440.3Z"/>
<path d="M703.3 440.7L710.5 440.7L706.9 447.5Z"/>
<path d="M685.4 443.8L692.6 443.8L689.0 450.6Z"/>
<path d="M667.6 453.2L674.8 453.2L671.2 460.0Z"/>
<path d="M667.6 460.7L674.8 460.7L671.2 467.5Z"/>
<path d="M685.4 459.5L692.6 459.5L689.0 466.3Z"/>
<path d="M703.3 460.7L710.5 460.7L706.9 467.5Z"/>
<path d="M667.6 469.6L674.8 469.6L671.2 476.4Z"/>
<path d="M685.4 473.7L692.6 473.7L689.0 480.5Z"/>
<path d="M703.3 480.5L710.5 480.5L706.9 487.3Z"/>
<path d="M685.4 482.1L692.6 482.1L689.0 488.9Z"/>
<path d="M667.6 492.0L674.8 492.0L671.2 498.8Z"/>
<path d="M685.4 491.3L692.6 491.3L689.0 498.1Z"/>
<path d="M703.3 490.1L710.5 490.1L706.9 496.9Z"/>
<path d="M676.5 502.9L683.7 502.9L680.1 509.7Z"/>
<path d="M694.4 507.0L701.6 507.0L698.0 513.8Z"/>
<path d="M676.5 515.4L683.7 515.4L680.1 522.2Z"/>
<path d="M694.4 514.9L701.6 514.9L698.0 521.7Z"/>
<path d="M685.4 527.4L692.6 527.4L689.0 534.2Z"/>
<path d="M685.4 535.4L692.6 535.4L689.0 542.2Z"/>
<path d="M685.4 547.4L692.6 547.4L689.0 554.2Z"/>
<path d="M703.3 545.5L710.5 545.5L706.9 552.3Z"/>
<path d="M685.4 563.6L692.6 563.6L689.0 570.4Z"/>
<path d="M685.4 575.2L692.6 575.2L689.0 582.0Z"/>
<path d="M667.6 490.6H711.0" stroke="#141414" stroke-width="1.75" fill="none"/>
<path d="M453.9 431.8V619.0" stroke="#141414" stroke-width="2.05" fill="none"/>
<path d="M452.9 618.0H733.2" stroke="#141414" stroke-width="2.05" fill="none"/>
<path d="M446.1 432.8H453.9" stroke="#141414" stroke-width="2.05" fill="none"/>
<text x="444.3" y="437.9" font-family="'Liberation Sans', sans-serif" font-size="14.2" font-weight="bold" text-anchor="end" stroke="#141414" stroke-width="0.12" stroke-linejoin="round">100</text>
<path d="M446.1 469.8H453.9" stroke="#141414" stroke-width="2.05" fill="none"/>
<text x="444.3" y="474.9" font-family="'Liberation Sans', sans-serif" font-size="14.2" font-weight="bold" text-anchor="end" stroke="#141414" stroke-width="0.12" stroke-linejoin="round">80</text>
<path d="M446.1 506.8H453.9" stroke="#141414" stroke-width="2.05" fill="none"/>
<text x="444.3" y="511.9" font-family="'Liberation Sans', sans-serif" font-size="14.2" font-weight="bold" text-anchor="end" stroke="#141414" stroke-width="0.12" stroke-linejoin="round">60</text>
<path d="M446.1 543.9H453.9" stroke="#141414" stroke-width="2.05" fill="none"/>
<text x="444.3" y="548.9" font-family="'Liberation Sans', sans-serif" font-size="14.2" font-weight="bold" text-anchor="end" stroke="#141414" stroke-width="0.12" stroke-linejoin="round">40</text>
<path d="M446.1 580.9H453.9" stroke="#141414" stroke-width="2.05" fill="none"/>
<text x="444.3" y="585.9" font-family="'Liberation Sans', sans-serif" font-size="14.2" font-weight="bold" text-anchor="end" stroke="#141414" stroke-width="0.12" stroke-linejoin="round">20</text>
<path d="M446.1 618.0H453.9" stroke="#141414" stroke-width="2.05" fill="none"/>
<text x="444.3" y="623.0" font-family="'Liberation Sans', sans-serif" font-size="14.2" font-weight="bold" text-anchor="end" stroke="#141414" stroke-width="0.12" stroke-linejoin="round">0</text>
<path d="M496.7 618.0V623.0" stroke="#141414" stroke-width="2.05" fill="none"/>
<path d="M560.6 618.0V623.0" stroke="#141414" stroke-width="2.05" fill="none"/>
<path d="M624.9 618.0V623.0" stroke="#141414" stroke-width="2.05" fill="none"/>
<path d="M689.0 618.0V623.0" stroke="#141414" stroke-width="2.05" fill="none"/>
<path d="M553.0 389.8H667.3" stroke="#141414" stroke-width="1.35" fill="none"/>
<text x="599.7 607.2 614.8 622.3" y="390.4" font-family="'DejaVu Sans', sans-serif" font-size="12.5" text-anchor="middle">****</text>
<path d="M553.0 399.0H609.8" stroke="#141414" stroke-width="1.35" fill="none"/>
<text x="570.7 578.2 585.8 593.3" y="401.7" font-family="'DejaVu Sans', sans-serif" font-size="12.5" text-anchor="middle">****</text>
<path d="M495.5 408.8H668.8" stroke="#141414" stroke-width="1.35" fill="none"/>
<text x="573.5 581.0 588.5" y="411.1" font-family="'DejaVu Sans', sans-serif" font-size="12.5" text-anchor="middle">***</text>
<path d="M495.5 418.3H609.8" stroke="#141414" stroke-width="1.35" fill="none"/>
<text x="544.5 552.0 559.5" y="419.7" font-family="'DejaVu Sans', sans-serif" font-size="12.5" text-anchor="middle">***</text>
<text x="499.4" y="647.0" font-family="'Liberation Sans', sans-serif" font-size="14.2" font-weight="bold" text-anchor="middle" textLength="19.8" lengthAdjust="spacingAndGlyphs" stroke="#141414" stroke-width="0.35" stroke-linejoin="round">HD</text>
<text x="555.4" y="647.0" font-family="'Liberation Sans', sans-serif" font-size="14.2" font-weight="bold" text-anchor="middle" textLength="17.6" lengthAdjust="spacingAndGlyphs" stroke="#141414" stroke-width="0.35" stroke-linejoin="round">D0</text>
<text x="612.9" y="647.0" font-family="'Liberation Sans', sans-serif" font-size="14.2" font-weight="bold" text-anchor="middle" textLength="16.8" lengthAdjust="spacingAndGlyphs" stroke="#141414" stroke-width="0.35" stroke-linejoin="round">D7</text>
<text x="671.8" y="647.0" font-family="'Liberation Sans', sans-serif" font-size="14.2" font-weight="bold" text-anchor="middle" textLength="26.8" lengthAdjust="spacingAndGlyphs" stroke="#141414" stroke-width="0.35" stroke-linejoin="round">D12</text>
<path d="M99.8 950.2H388" stroke="#2a2a2a" stroke-width="1" stroke-dasharray="2.7 1.04" fill="none"/>
<rect x="102.6" y="953.6" width="9.6" height="15.8" fill="#ffffff" stroke="#262626" stroke-width="1.2"/>
<path d="M123.2 953.0V952.3" stroke="#141414" stroke-width="1.7" fill="none"/><path d="M120.5 952.8H126.0" stroke="#141414" stroke-width="1.45" fill="none"/>
<rect x="118.4" y="953.6" width="9.6" height="15.8" fill="#b2b2b2" stroke="#262626" stroke-width="1.2"/>
<rect x="134.3" y="953.6" width="9.6" height="15.8" fill="#6e6e6e" stroke="#262626" stroke-width="1.2"/>
<path d="M155.0 953.0V952.0" stroke="#141414" stroke-width="1.7" fill="none"/><path d="M152.2 952.5H157.8" stroke="#141414" stroke-width="1.45" fill="none"/>
<rect x="150.2" y="953.6" width="9.6" height="15.8" fill="#141414" stroke="#141414" stroke-width="1.2"/>
<rect x="176.6" y="953.6" width="9.6" height="15.8" fill="#ffffff" stroke="#262626" stroke-width="1.2"/>
<path d="M197.2 927.6V917.9" stroke="#141414" stroke-width="1.7" fill="none"/><path d="M194.4 918.4H200.1" stroke="#141414" stroke-width="1.45" fill="none"/>
<rect x="192.4" y="928.2" width="9.6" height="41.2" fill="#b2b2b2" stroke="#262626" stroke-width="1.2"/>
<path d="M213.1 785.3V769.8" stroke="#141414" stroke-width="1.7" fill="none"/><path d="M210.3 770.3H215.9" stroke="#141414" stroke-width="1.45" fill="none"/>
<rect x="208.3" y="785.9" width="9.6" height="183.5" fill="#6e6e6e" stroke="#262626" stroke-width="1.2"/>
<path d="M229.0 817.2V801.9" stroke="#141414" stroke-width="1.7" fill="none"/><path d="M226.2 802.4H231.8" stroke="#141414" stroke-width="1.45" fill="none"/>
<rect x="224.2" y="817.8" width="9.6" height="151.6" fill="#141414" stroke="#141414" stroke-width="1.2"/>
<rect x="250.1" y="953.6" width="9.6" height="15.8" fill="#ffffff" stroke="#262626" stroke-width="1.2"/>
<path d="M270.8 954.8V953.5" stroke="#141414" stroke-width="1.7" fill="none"/><path d="M267.9 954.0H273.6" stroke="#141414" stroke-width="1.45" fill="none"/>
<rect x="266.0" y="955.4" width="9.6" height="14.0" fill="#b2b2b2" stroke="#262626" stroke-width="1.2"/>
<path d="M286.6 949.8V948.7" stroke="#141414" stroke-width="1.7" fill="none"/><path d="M283.8 949.2H289.4" stroke="#141414" stroke-width="1.45" fill="none"/>
<rect x="281.8" y="950.4" width="9.6" height="19.0" fill="#6e6e6e" stroke="#262626" stroke-width="1.2"/>
<path d="M302.4 949.6V948.6" stroke="#141414" stroke-width="1.7" fill="none"/><path d="M299.6 949.1H305.2" stroke="#141414" stroke-width="1.45" fill="none"/>
<rect x="297.7" y="950.2" width="9.6" height="19.2" fill="#141414" stroke="#141414" stroke-width="1.2"/>
<rect x="323.8" y="953.6" width="9.6" height="15.8" fill="#ffffff" stroke="#262626" stroke-width="1.2"/>
<path d="M344.4 953.7V952.6" stroke="#141414" stroke-width="1.7" fill="none"/><path d="M341.6 953.1H347.2" stroke="#141414" stroke-width="1.45" fill="none"/>
<rect x="339.7" y="954.3" width="9.6" height="15.1" fill="#b2b2b2" stroke="#262626" stroke-width="1.2"/>
<path d="M360.3 949.8V948.7" stroke="#141414" stroke-width="1.7" fill="none"/><path d="M357.5 949.2H363.1" stroke="#141414" stroke-width="1.45" fill="none"/>
<rect x="355.5" y="950.4" width="9.6" height="19.0" fill="#6e6e6e" stroke="#262626" stroke-width="1.2"/>
<path d="M376.1 949.8V949.0" stroke="#141414" stroke-width="1.7" fill="none"/><path d="M373.3 949.5H378.9" stroke="#141414" stroke-width="1.45" fill="none"/>
<rect x="371.4" y="950.4" width="9.6" height="19.0" fill="#141414" stroke="#141414" stroke-width="1.2"/>
<path d="M97.1 765.7V970.4" stroke="#141414" stroke-width="2.0" fill="none"/>
<path d="M96.1 969.4H387.2" stroke="#141414" stroke-width="2.0" fill="none"/>
<path d="M88.8 766.7H97.1" stroke="#141414" stroke-width="2.0" fill="none"/>
<text x="87.0" y="772.4" font-family="'Liberation Sans', sans-serif" font-size="14.8" font-weight="bold" text-anchor="end" stroke="#141414" stroke-width="0.12" stroke-linejoin="round">1200</text>
<path d="M88.8 800.5H97.1" stroke="#141414" stroke-width="2.0" fill="none"/>
<text x="87.0" y="806.2" font-family="'Liberation Sans', sans-serif" font-size="14.8" font-weight="bold" text-anchor="end" stroke="#141414" stroke-width="0.12" stroke-linejoin="round">1000</text>
<path d="M88.8 834.3H97.1" stroke="#141414" stroke-width="2.0" fill="none"/>
<text x="87.0" y="840.0" font-family="'Liberation Sans', sans-serif" font-size="14.8" font-weight="bold" text-anchor="end" stroke="#141414" stroke-width="0.12" stroke-linejoin="round">800</text>
<path d="M88.8 868.0H97.1" stroke="#141414" stroke-width="2.0" fill="none"/>
<text x="87.0" y="873.7" font-family="'Liberation Sans', sans-serif" font-size="14.8" font-weight="bold" text-anchor="end" stroke="#141414" stroke-width="0.12" stroke-linejoin="round">600</text>
<path d="M88.8 901.8H97.1" stroke="#141414" stroke-width="2.0" fill="none"/>
<text x="87.0" y="907.5" font-family="'Liberation Sans', sans-serif" font-size="14.8" font-weight="bold" text-anchor="end" stroke="#141414" stroke-width="0.12" stroke-linejoin="round">400</text>
<path d="M88.8 935.6H97.1" stroke="#141414" stroke-width="2.0" fill="none"/>
<text x="87.0" y="941.3" font-family="'Liberation Sans', sans-serif" font-size="14.8" font-weight="bold" text-anchor="end" stroke="#141414" stroke-width="0.12" stroke-linejoin="round">200</text>
<path d="M88.8 969.4H97.1" stroke="#141414" stroke-width="2.0" fill="none"/>
<text x="87.0" y="975.1" font-family="'Liberation Sans', sans-serif" font-size="14.8" font-weight="bold" text-anchor="end" stroke="#141414" stroke-width="0.12" stroke-linejoin="round">0</text>
<path d="M131.0 969.4V977.8" stroke="#141414" stroke-width="2.0" fill="none"/>
<path d="M204.4 969.4V977.8" stroke="#141414" stroke-width="2.0" fill="none"/>
<path d="M278.1 969.4V977.8" stroke="#141414" stroke-width="2.0" fill="none"/>
<path d="M351.9 969.4V977.8" stroke="#141414" stroke-width="2.0" fill="none"/>
<text x="131.3" y="993.7" font-family="'Liberation Sans', sans-serif" font-size="15" font-weight="bold" text-anchor="middle" stroke="#141414" stroke-width="0.1" stroke-linejoin="round">EM</text>
<text x="205.0" y="993.7" font-family="'Liberation Sans', sans-serif" font-size="15" font-weight="bold" text-anchor="middle" stroke="#141414" stroke-width="0.1" stroke-linejoin="round">Naive</text>
<text x="278.5" y="993.7" font-family="'Liberation Sans', sans-serif" font-size="15" font-weight="bold" text-anchor="middle" stroke="#141414" stroke-width="0.1" stroke-linejoin="round">CM</text>
<text x="351.8" y="993.7" font-family="'Liberation Sans', sans-serif" font-size="15" font-weight="bold" text-anchor="middle" stroke="#141414" stroke-width="0.1" stroke-linejoin="round">EMRA</text>
<text x="18.1" y="847.3" font-family="'Liberation Sans', sans-serif" font-size="17" font-weight="bold" text-anchor="middle" textLength="121.0" lengthAdjust="spacingAndGlyphs" transform="rotate(-90 18.1 847.3)" stroke="#141414" stroke-width="0.35" stroke-linejoin="round">CD95+ Relative</text>
<text x="40.6" y="846.1" font-family="'Liberation Sans', sans-serif" font-size="17" font-weight="bold" text-anchor="middle" textLength="137.0" lengthAdjust="spacingAndGlyphs" transform="rotate(-90 40.6 846.1)" stroke="#141414" stroke-width="0.35" stroke-linejoin="round">proportion to HD</text>
<path d="M459 950.3H746" stroke="#2a2a2a" stroke-width="1" stroke-dasharray="2.7 1.04" fill="none"/>
<rect x="462.9" y="952.6" width="9.2" height="15.5" fill="#ffffff" stroke="#262626" stroke-width="1.2"/>
<path d="M483.1 952.0V951.0" stroke="#141414" stroke-width="1.7" fill="none"/><path d="M480.3 951.5H485.9" stroke="#141414" stroke-width="1.45" fill="none"/>
<rect x="478.5" y="952.6" width="9.2" height="15.5" fill="#b2b2b2" stroke="#262626" stroke-width="1.2"/>
<rect x="494.1" y="952.2" width="9.2" height="15.9" fill="#6e6e6e" stroke="#262626" stroke-width="1.2"/>
<path d="M514.3 952.0V950.6" stroke="#141414" stroke-width="1.7" fill="none"/><path d="M511.5 951.1H517.1" stroke="#141414" stroke-width="1.45" fill="none"/>
<rect x="509.7" y="952.6" width="9.2" height="15.5" fill="#141414" stroke="#141414" stroke-width="1.2"/>
<rect x="535.7" y="952.6" width="9.2" height="15.5" fill="#ffffff" stroke="#262626" stroke-width="1.2"/>
<path d="M555.9 948.3V944.4" stroke="#141414" stroke-width="1.7" fill="none"/><path d="M553.1 944.9H558.7" stroke="#141414" stroke-width="1.45" fill="none"/>
<rect x="551.3" y="948.9" width="9.2" height="19.2" fill="#b2b2b2" stroke="#262626" stroke-width="1.2"/>
<path d="M571.5 904.5V900.6" stroke="#141414" stroke-width="1.7" fill="none"/><path d="M568.7 901.1H574.3" stroke="#141414" stroke-width="1.45" fill="none"/>
<rect x="566.9" y="905.1" width="9.2" height="63.0" fill="#6e6e6e" stroke="#262626" stroke-width="1.2"/>
<path d="M587.1 906.4V901.9" stroke="#141414" stroke-width="1.7" fill="none"/><path d="M584.3 902.4H589.9" stroke="#141414" stroke-width="1.45" fill="none"/>
<rect x="582.5" y="907.0" width="9.2" height="61.1" fill="#141414" stroke="#141414" stroke-width="1.2"/>
<rect x="608.2" y="953.0" width="9.2" height="15.1" fill="#ffffff" stroke="#262626" stroke-width="1.2"/>
<path d="M628.4 953.6V952.4" stroke="#141414" stroke-width="1.7" fill="none"/><path d="M625.6 952.9H631.2" stroke="#141414" stroke-width="1.45" fill="none"/>
<rect x="623.8" y="954.2" width="9.2" height="13.9" fill="#b2b2b2" stroke="#262626" stroke-width="1.2"/>
<rect x="639.4" y="952.0" width="9.2" height="16.1" fill="#6e6e6e" stroke="#262626" stroke-width="1.2"/>
<rect x="655.0" y="952.2" width="9.2" height="15.9" fill="#141414" stroke="#141414" stroke-width="1.2"/>
<rect x="681.2" y="953.0" width="9.2" height="15.1" fill="#ffffff" stroke="#262626" stroke-width="1.2"/>
<path d="M701.4 953.9V952.7" stroke="#141414" stroke-width="1.7" fill="none"/><path d="M698.6 953.2H704.2" stroke="#141414" stroke-width="1.45" fill="none"/>
<rect x="696.8" y="954.5" width="9.2" height="13.6" fill="#b2b2b2" stroke="#262626" stroke-width="1.2"/>
<path d="M717.0 951.4V950.5" stroke="#141414" stroke-width="1.7" fill="none"/><path d="M714.2 951.0H719.8" stroke="#141414" stroke-width="1.45" fill="none"/>
<rect x="712.4" y="952.0" width="9.2" height="16.1" fill="#6e6e6e" stroke="#262626" stroke-width="1.2"/>
<path d="M732.6 952.4V950.8" stroke="#141414" stroke-width="1.7" fill="none"/><path d="M729.8 951.3H735.4" stroke="#141414" stroke-width="1.45" fill="none"/>
<rect x="728.0" y="953.0" width="9.2" height="15.1" fill="#141414" stroke="#141414" stroke-width="1.2"/>
<path d="M457.0 764.8V969.1" stroke="#141414" stroke-width="2.0" fill="none"/>
<path d="M456.0 968.1H742.7" stroke="#141414" stroke-width="2.0" fill="none"/>
<path d="M449.2 765.8H457.0" stroke="#141414" stroke-width="2.0" fill="none"/>
<text x="447.2" y="771.4" font-family="'Liberation Sans', sans-serif" font-size="14.8" font-weight="bold" text-anchor="end" stroke="#141414" stroke-width="0.12" stroke-linejoin="round">1200</text>
<path d="M449.2 799.5H457.0" stroke="#141414" stroke-width="2.0" fill="none"/>
<text x="447.2" y="805.1" font-family="'Liberation Sans', sans-serif" font-size="14.8" font-weight="bold" text-anchor="end" stroke="#141414" stroke-width="0.12" stroke-linejoin="round">1000</text>
<path d="M449.2 833.2H457.0" stroke="#141414" stroke-width="2.0" fill="none"/>
<text x="447.2" y="838.8" font-family="'Liberation Sans', sans-serif" font-size="14.8" font-weight="bold" text-anchor="end" stroke="#141414" stroke-width="0.12" stroke-linejoin="round">800</text>
<path d="M449.2 866.9H457.0" stroke="#141414" stroke-width="2.0" fill="none"/>
<text x="447.2" y="872.5" font-family="'Liberation Sans', sans-serif" font-size="14.8" font-weight="bold" text-anchor="end" stroke="#141414" stroke-width="0.12" stroke-linejoin="round">600</text>
<path d="M449.2 900.6H457.0" stroke="#141414" stroke-width="2.0" fill="none"/>
<text x="447.2" y="906.2" font-family="'Liberation Sans', sans-serif" font-size="14.8" font-weight="bold" text-anchor="end" stroke="#141414" stroke-width="0.12" stroke-linejoin="round">400</text>
<path d="M449.2 934.4H457.0" stroke="#141414" stroke-width="2.0" fill="none"/>
<text x="447.2" y="940.0" font-family="'Liberation Sans', sans-serif" font-size="14.8" font-weight="bold" text-anchor="end" stroke="#141414" stroke-width="0.12" stroke-linejoin="round">200</text>
<path d="M449.2 968.1H457.0" stroke="#141414" stroke-width="2.0" fill="none"/>
<text x="447.2" y="973.7" font-family="'Liberation Sans', sans-serif" font-size="14.8" font-weight="bold" text-anchor="end" stroke="#141414" stroke-width="0.12" stroke-linejoin="round">0</text>
<path d="M490.4 968.1V976.5" stroke="#141414" stroke-width="2.0" fill="none"/>
<path d="M563.0 968.1V976.5" stroke="#141414" stroke-width="2.0" fill="none"/>
<path d="M636.2 968.1V976.5" stroke="#141414" stroke-width="2.0" fill="none"/>
<path d="M708.3 968.1V976.5" stroke="#141414" stroke-width="2.0" fill="none"/>
<text x="491.0" y="992.6" font-family="'Liberation Sans', sans-serif" font-size="15" font-weight="bold" text-anchor="middle" stroke="#141414" stroke-width="0.1" stroke-linejoin="round">EM</text>
<text x="563.6" y="992.6" font-family="'Liberation Sans', sans-serif" font-size="15" font-weight="bold" text-anchor="middle" stroke="#141414" stroke-width="0.1" stroke-linejoin="round">Naive</text>
<text x="636.2" y="992.6" font-family="'Liberation Sans', sans-serif" font-size="15" font-weight="bold" text-anchor="middle" stroke="#141414" stroke-width="0.1" stroke-linejoin="round">CM</text>
<text x="708.7" y="992.6" font-family="'Liberation Sans', sans-serif" font-size="15" font-weight="bold" text-anchor="middle" stroke="#141414" stroke-width="0.1" stroke-linejoin="round">EMRA</text>
<text x="1.0" y="11.6" font-family="'Liberation Sans', sans-serif" font-size="14.2" font-weight="bold" text-anchor="start" stroke="#141414" stroke-width="0.5" stroke-linejoin="round">A</text>
<text x="1.1" y="349.9" font-family="'Liberation Sans', sans-serif" font-size="13.6" font-weight="bold" text-anchor="start" stroke="#141414" stroke-width="0.5" stroke-linejoin="round">B</text>
<text x="0.9" y="704.6" font-family="'Liberation Sans', sans-serif" font-size="13.8" font-weight="bold" text-anchor="start" stroke="#141414" stroke-width="0.5" stroke-linejoin="round">C</text>
<text x="65.0" y="15.3" font-family="'Liberation Sans', sans-serif" font-size="17.4" font-weight="normal" text-anchor="middle" textLength="16.0" lengthAdjust="spacingAndGlyphs" stroke="#141414" stroke-width="0.15" stroke-linejoin="round">(i)</text>
<text x="407.5" y="15.3" font-family="'Liberation Sans', sans-serif" font-size="17.4" font-weight="normal" text-anchor="middle" textLength="20.8" lengthAdjust="spacingAndGlyphs" stroke="#141414" stroke-width="0.15" stroke-linejoin="round">(ii)</text>
<text x="71.9" y="361.4" font-family="'Liberation Sans', sans-serif" font-size="17.4" font-weight="normal" text-anchor="middle" textLength="16.3" lengthAdjust="spacingAndGlyphs" stroke="#141414" stroke-width="0.15" stroke-linejoin="round">(i)</text>
<text x="412.8" y="361.4" font-family="'Liberation Sans', sans-serif" font-size="17.4" font-weight="normal" text-anchor="middle" textLength="21.1" lengthAdjust="spacingAndGlyphs" stroke="#141414" stroke-width="0.15" stroke-linejoin="round">(ii)</text>
<text x="72.7" y="730.0" font-family="'Liberation Sans', sans-serif" font-size="17.4" font-weight="normal" text-anchor="middle" textLength="16.1" lengthAdjust="spacingAndGlyphs" stroke="#141414" stroke-width="0.15" stroke-linejoin="round">(i)</text>
<text x="412.8" y="730.0" font-family="'Liberation Sans', sans-serif" font-size="17.4" font-weight="normal" text-anchor="middle" textLength="21.1" lengthAdjust="spacingAndGlyphs" stroke="#141414" stroke-width="0.15" stroke-linejoin="round">(ii)</text>
</g>
</svg>
</body></html>
